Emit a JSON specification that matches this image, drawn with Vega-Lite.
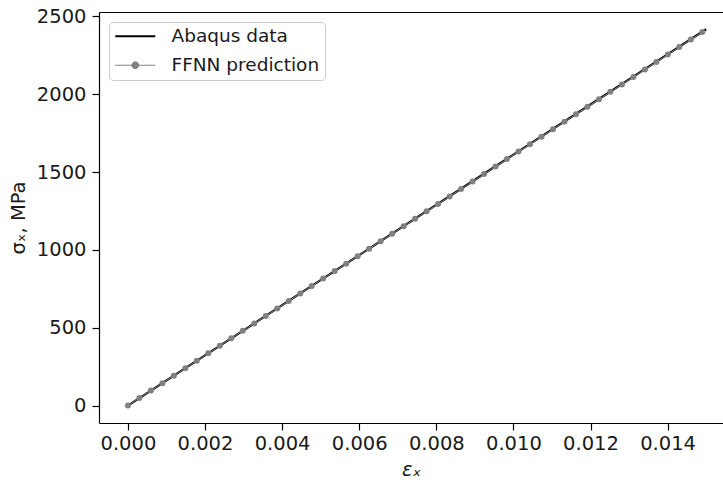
{
  "$schema": "https://vega.github.io/schema/vega-lite/v6.json",
  "autosize": "none",
  "width": 624,
  "height": 411,
  "padding": {"left": 99, "top": 12, "right": 0, "bottom": 59},
  "background": "white",
  "config": {
    "view": {"stroke": null},
    "font": "DejaVu Sans",
    "axis": {
      "labelFont": "DejaVu Sans",
      "titleFont": "DejaVu Sans",
      "labelFontSize": 19.5,
      "titleFontSize": 19.5,
      "titleFontWeight": "normal",
      "labelColor": "#1a1a1a",
      "titleColor": "#1a1a1a",
      "domainColor": "black",
      "domainWidth": 1.2,
      "tickColor": "black",
      "tickWidth": 1.2,
      "tickSize": 7,
      "grid": false
    }
  },
  "datasets": {
    "abaqus": [
      {"strain": 0.0, "stress": 0, "series": "Abaqus data"},
      {"strain": 0.0015, "stress": 241.7, "series": "Abaqus data"},
      {"strain": 0.003, "stress": 483.4, "series": "Abaqus data"},
      {"strain": 0.0045, "stress": 725.1, "series": "Abaqus data"},
      {"strain": 0.006, "stress": 966.8, "series": "Abaqus data"},
      {"strain": 0.0075, "stress": 1208.5, "series": "Abaqus data"},
      {"strain": 0.009, "stress": 1450.2, "series": "Abaqus data"},
      {"strain": 0.0105, "stress": 1691.9, "series": "Abaqus data"},
      {"strain": 0.012, "stress": 1933.6, "series": "Abaqus data"},
      {"strain": 0.0135, "stress": 2175.3, "series": "Abaqus data"},
      {"strain": 0.015, "stress": 2417, "series": "Abaqus data"}
    ],
    "ffnn": [
      {"strain": 0.0, "stress": 0.0, "series": "FFNN prediction"},
      {"strain": 0.000298, "stress": 48.0, "series": "FFNN prediction"},
      {"strain": 0.000596, "stress": 96.0, "series": "FFNN prediction"},
      {"strain": 0.000894, "stress": 143.9, "series": "FFNN prediction"},
      {"strain": 0.001192, "stress": 191.9, "series": "FFNN prediction"},
      {"strain": 0.00149, "stress": 239.9, "series": "FFNN prediction"},
      {"strain": 0.001788, "stress": 287.9, "series": "FFNN prediction"},
      {"strain": 0.002086, "stress": 335.8, "series": "FFNN prediction"},
      {"strain": 0.002384, "stress": 383.8, "series": "FFNN prediction"},
      {"strain": 0.002682, "stress": 431.8, "series": "FFNN prediction"},
      {"strain": 0.00298, "stress": 479.8, "series": "FFNN prediction"},
      {"strain": 0.003278, "stress": 527.8, "series": "FFNN prediction"},
      {"strain": 0.003576, "stress": 575.7, "series": "FFNN prediction"},
      {"strain": 0.003874, "stress": 623.7, "series": "FFNN prediction"},
      {"strain": 0.004172, "stress": 671.7, "series": "FFNN prediction"},
      {"strain": 0.00447, "stress": 719.7, "series": "FFNN prediction"},
      {"strain": 0.004768, "stress": 767.6, "series": "FFNN prediction"},
      {"strain": 0.005066, "stress": 815.6, "series": "FFNN prediction"},
      {"strain": 0.005364, "stress": 863.6, "series": "FFNN prediction"},
      {"strain": 0.005662, "stress": 911.6, "series": "FFNN prediction"},
      {"strain": 0.00596, "stress": 959.6, "series": "FFNN prediction"},
      {"strain": 0.006258, "stress": 1007.5, "series": "FFNN prediction"},
      {"strain": 0.006556, "stress": 1055.5, "series": "FFNN prediction"},
      {"strain": 0.006854, "stress": 1103.5, "series": "FFNN prediction"},
      {"strain": 0.007152, "stress": 1151.5, "series": "FFNN prediction"},
      {"strain": 0.00745, "stress": 1199.5, "series": "FFNN prediction"},
      {"strain": 0.007748, "stress": 1247.4, "series": "FFNN prediction"},
      {"strain": 0.008046, "stress": 1295.4, "series": "FFNN prediction"},
      {"strain": 0.008344, "stress": 1343.4, "series": "FFNN prediction"},
      {"strain": 0.008642, "stress": 1391.4, "series": "FFNN prediction"},
      {"strain": 0.00894, "stress": 1439.3, "series": "FFNN prediction"},
      {"strain": 0.009238, "stress": 1487.3, "series": "FFNN prediction"},
      {"strain": 0.009536, "stress": 1535.3, "series": "FFNN prediction"},
      {"strain": 0.009834, "stress": 1583.3, "series": "FFNN prediction"},
      {"strain": 0.010132, "stress": 1631.3, "series": "FFNN prediction"},
      {"strain": 0.01043, "stress": 1679.2, "series": "FFNN prediction"},
      {"strain": 0.010728, "stress": 1727.2, "series": "FFNN prediction"},
      {"strain": 0.011026, "stress": 1775.2, "series": "FFNN prediction"},
      {"strain": 0.011324, "stress": 1823.2, "series": "FFNN prediction"},
      {"strain": 0.011622, "stress": 1871.1, "series": "FFNN prediction"},
      {"strain": 0.01192, "stress": 1919.1, "series": "FFNN prediction"},
      {"strain": 0.012218, "stress": 1967.1, "series": "FFNN prediction"},
      {"strain": 0.012516, "stress": 2015.1, "series": "FFNN prediction"},
      {"strain": 0.012814, "stress": 2063.1, "series": "FFNN prediction"},
      {"strain": 0.013112, "stress": 2111.0, "series": "FFNN prediction"},
      {"strain": 0.01341, "stress": 2159.0, "series": "FFNN prediction"},
      {"strain": 0.013708, "stress": 2207.0, "series": "FFNN prediction"},
      {"strain": 0.014006, "stress": 2255.0, "series": "FFNN prediction"},
      {"strain": 0.014304, "stress": 2302.9, "series": "FFNN prediction"},
      {"strain": 0.014602, "stress": 2350.9, "series": "FFNN prediction"},
      {"strain": 0.0149, "stress": 2398.9, "series": "FFNN prediction"}
    ]
  },
  "layer": [
    {
      "data": {"name": "abaqus"},
      "mark": {"type": "line", "strokeWidth": 2.2, "clip": true},
      "encoding": {
        "x": {
          "field": "strain", "type": "quantitative",
          "scale": {"domain": [-0.00075, 0.015437], "nice": false, "zero": false},
          "axis": {
            "title": "εₓ", "values": [0, 0.002, 0.004, 0.006, 0.008, 0.01, 0.012, 0.014],
            "format": ".3f", "labelPadding": 4, "titlePadding": 8, "titleFontStyle": "italic", "orient": "bottom"
          }
        },
        "y": {
          "field": "stress", "type": "quantitative",
          "scale": {"domain": [-112, 2528], "nice": false, "zero": false},
          "axis": {
            "title": "σₓ, MPa", "values": [0, 500, 1000, 1500, 2000, 2500],
            "format": "d", "labelPadding": 6, "titlePadding": 8
          }
        },
        "color": {
          "field": "series", "type": "nominal",
          "scale": {"domain": ["Abaqus data", "FFNN prediction"], "range": ["black", "gray"]},
          "legend": {
            "title": null,
            "orient": "top-left",
            "offset": 10,
            "padding": 5,
            "strokeColor": "#cccccc",
            "fillColor": "white",
            "cornerRadius": 4,
            "labelFont": "DejaVu Sans",
            "labelFontSize": 18.5,
            "labelColor": "#1a1a1a",
            "symbolOffset": 12,
            "labelOffset": 27,
            "rowPadding": 10,
            "symbolSize": 1600,
            "encode": {
              "symbols": {
                "update": {
                  "shape": {"signal": "datum.value === 'Abaqus data' ? 'M-1,0H1' : 'M-1,0H1M0.17,0A0.17,0.17 0 1,1 -0.17,0A0.17,0.17 0 1,1 0.17,0'"},
                  "strokeWidth": {"signal": "datum.value === 'Abaqus data' ? 2.2 : 1"},
                  "fill": {"signal": "datum.value === 'Abaqus data' ? 'transparent' : 'gray'"},
                  "stroke": {"signal": "datum.value === 'Abaqus data' ? 'black' : 'gray'"},
                  "fillOpacity": {"value": 1},
                  "opacity": {"value": 1}
                }
              }
            }
          }
        }
      }
    },
    {
      "data": {"name": "ffnn"},
      "mark": {"type": "line", "strokeWidth": 1, "clip": true, "point": {"filled": true, "size": 36, "opacity": 1}},
      "encoding": {
        "x": {
          "field": "strain", "type": "quantitative",
          "axis": {"orient": "top", "labels": false, "ticks": false, "title": null, "domain": true}
        },
        "y": {"field": "stress", "type": "quantitative"},
        "color": {"field": "series", "type": "nominal"}
      }
    }
  ],
  "resolve": {"axis": {"x": "independent"}}
}
